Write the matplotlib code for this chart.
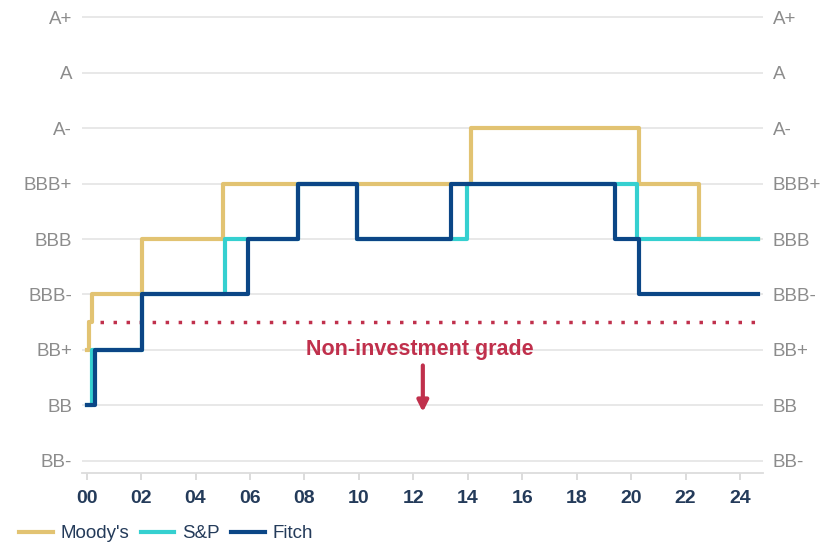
import matplotlib.pyplot as plt

plt.rcParams['font.family'] = ['Liberation Sans', 'DejaVu Sans']

# rating scale, lowest first
ratings = ['BB-', 'BB', 'BB+', 'BBB-', 'BBB', 'BBB+', 'A-', 'A', 'A+']

# rating history (years since 2000, notch level on the scale above)
moodys_t = [0, 0.07, 0.18, 2.04, 5.0, 14.12, 20.29, 22.5, 24.67]
moodys_r = [2, 2.5, 3, 4, 5, 6, 5, 4, 4]
sp_t = [0, 0.18, 2.04, 5.07, 7.76, 9.93, 13.97, 20.22, 24.67]
sp_r = [1, 2, 3, 4, 5, 4, 5, 4, 4]
fitch_t = [0, 0.29, 2.04, 5.92, 7.76, 9.93, 13.38, 19.41, 20.29, 24.67]
fitch_r = [1, 2, 3, 4, 5, 4, 5, 4, 3, 3]

x_ticks = list(range(0, 25, 2))
x_labels = ['%02d' % v for v in x_ticks]

ig_cutoff = 2.5

navy = '#0b4686'
gold = '#e2c372'
cyan = '#35d0d0'
red = '#c0304c'
grey_txt = '#8c8c8c'
dark_txt = '#243b5a'

fig = plt.figure(figsize=(8.34, 5.44), dpi=100)
ax = fig.add_axes([0.098, 0.1305, 0.817, 0.848])

for lvl in range(len(ratings)):
    ax.axhline(lvl, color='#e6e6e6', lw=1.3, zorder=0)

ax.plot(moodys_t, moodys_r, drawstyle='steps-post', color=gold, lw=3, label="Moody's", zorder=2)
ax.plot(sp_t, sp_r, drawstyle='steps-post', color=cyan, lw=3, label='S&P', zorder=3)
ax.plot(fitch_t, fitch_r, drawstyle='steps-post', color=navy, lw=3, label='Fitch', zorder=4)

ax.plot([0, 24.67], [ig_cutoff, ig_cutoff], color=red, lw=2.5,
        linestyle=(0, (1, 2.75)), zorder=1)
ax.text(12.25, 2.0, 'Non-investment grade', color=red, fontsize=15.5,
        fontweight='bold', ha='center', va='center')
ax.annotate('', xy=(12.35, 0.88), xytext=(12.35, 1.72),
            arrowprops=dict(arrowstyle='-|>', color=red, lw=3,
                            mutation_scale=16, shrinkA=0, shrinkB=0))

ax.set_xlim(-0.18, 24.85)
ax.set_ylim(-0.22, 8.1)
ax.set_xticks(x_ticks)
ax.set_xticklabels(x_labels, fontsize=14, fontweight='bold', color=dark_txt)
ax.set_yticks(range(len(ratings)))
ax.set_yticklabels(ratings, fontsize=13.5, color=grey_txt)
ax.tick_params(axis='y', length=0, pad=7, labelright=True)
ax.tick_params(axis='x', length=5, width=1.2, color='#d6d6d6', pad=7)

for side in ['top', 'left', 'right']:
    ax.spines[side].set_visible(False)
ax.spines['bottom'].set_color('#dcdcdc')
ax.spines['bottom'].set_linewidth(1.3)

leg = fig.legend(loc='lower left', bbox_to_anchor=(0.003, -0.028), ncol=3,
                 frameon=False, handlelength=1.8,
                 handletextpad=0.4, columnspacing=0.6,
                 prop={'size': 13.5})
for t in leg.get_texts():
    t.set_color(dark_txt)

fig.savefig('out.png', dpi=100)
